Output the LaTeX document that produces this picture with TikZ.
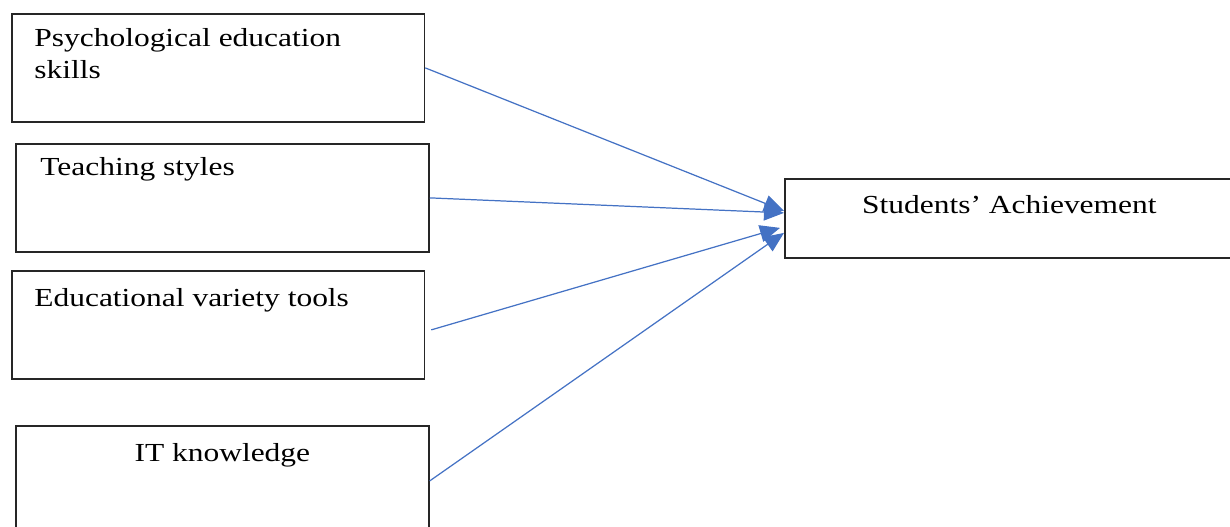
\documentclass[tikz,border=0pt]{standalone}
\usepackage{fontspec}
\setmainfont[FakeStretch=1.21]{Liberation Serif}
\usetikzlibrary{arrows.meta}

\definecolor{linkblue}{RGB}{68,114,196}

\tikzset{
  factor/.style={draw=black!85, line width=1pt, minimum width=8.25cm, minimum height=2.16cm, anchor=north west, inner sep=0pt},
  boxtext/.style={font=\fontsize{14.8}{18.2}\selectfont, inner sep=0pt, align=left},
  link/.style={linkblue, line width=0.7pt, -{Triangle[length=0.40cm,width=0.34cm]}}
}

\begin{document}
\begin{tikzpicture}
\useasboundingbox (0,0) rectangle (24.6,-10.54);

% the four factors
\node[factor, label={[boxtext, anchor=north west, xshift=0.46cm, yshift=-0.30cm]north west:Psychological education\\skills}] (psych) at (0.22,-0.26) {};
\node[factor, minimum width=8.26cm, label={[boxtext, anchor=north west, xshift=0.50cm, yshift=-0.28cm]north west:Teaching styles}] (styles) at (0.30,-2.86) {};
\node[factor, label={[boxtext, anchor=north west, xshift=0.46cm, yshift=-0.36cm]north west:Educational variety tools}] (tools) at (0.22,-5.40) {};
\node[factor, minimum width=8.26cm, minimum height=2.2cm, label={[boxtext, anchor=north, yshift=-0.36cm]north:IT knowledge}] (itknow) at (0.30,-8.50) {};

% outcome
\node[factor, minimum width=8.98cm, minimum height=1.58cm, label={[boxtext, anchor=north, yshift=-0.34cm]north:Students’ Achievement}] (ach) at (15.68,-3.56) {};

% links
\draw[link] (psych.east) -- ([yshift=0.15cm]ach.west);
\draw[link] (styles.east) -- ([yshift=0.11cm]ach.west);
\draw[link] ([xshift=0.12cm,yshift=-0.10cm]tools.east) -- ([xshift=-0.08cm,yshift=-0.19cm]ach.west);
\draw[link] (itknow.east) -- ([yshift=-0.29cm]ach.west);
\end{tikzpicture}
\end{document}
